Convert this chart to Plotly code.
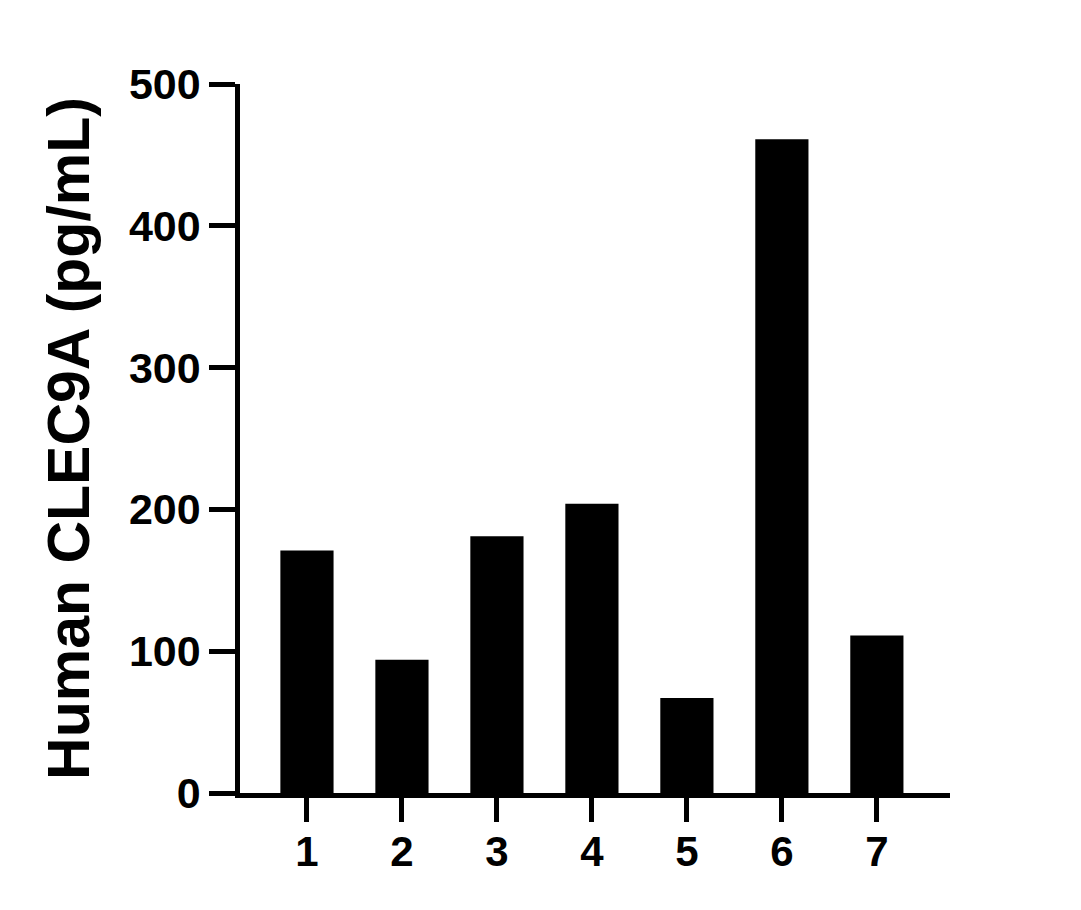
import plotly.graph_objects as go

# data
samples = [1, 2, 3, 4, 5, 6, 7]
clec9a = [171, 94, 181, 204, 67, 461, 111]
y_ticks = [0, 100, 200, 300, 400, 500]

FONT = "Liberation Sans, Arial, sans-serif"

fig = go.Figure()
fig.add_trace(go.Bar(
    x=samples, y=clec9a,
    width=0.56,
    marker=dict(color="black", line=dict(width=0)),
))

# page body adds 8px offset, margins compensate for it
fig.update_layout(
    width=1081, height=910,
    margin=dict(l=232, r=139, t=76, b=125),
    paper_bgcolor="white", plot_bgcolor="white",
    showlegend=False,
    font=dict(family=FONT, color="black"),
)

fig.update_xaxes(
    range=[0.295, 7.77],
    tickvals=samples, ticktext=[str(s) for s in samples],
    showgrid=False, zeroline=False,
    showline=True, linecolor="black", linewidth=4.5,
    ticks="outside", ticklen=24, tickwidth=4.5, tickcolor="black",
    tickfont=dict(size=42, family=FONT, weight="bold"),
    ticklabelstandoff=-6,
)
fig.update_yaxes(
    range=[0, 500],
    tickvals=y_ticks,
    showgrid=False, zeroline=False,
    showline=True, linecolor="black", linewidth=4.5,
    ticks="outside", ticklen=26, tickwidth=4.5, tickcolor="black",
    tickfont=dict(size=43, family=FONT, weight="bold"),
    title=dict(text="Human CLEC9A (pg/mL)",
               font=dict(size=59, family=FONT, weight="bold"),
               standoff=22),
)

fig.write_html("out.html")
